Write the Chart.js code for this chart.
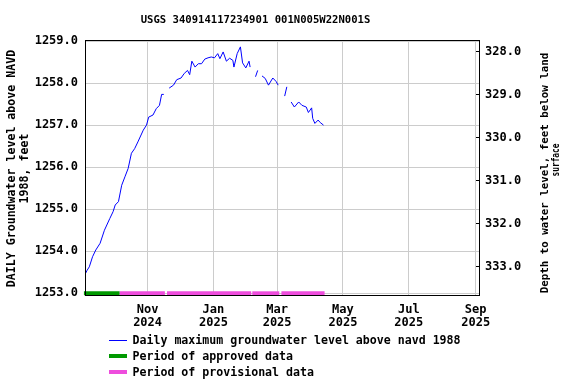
<!DOCTYPE html>
<html><head><meta charset="utf-8">
<script src="https://cdn.jsdelivr.net/npm/chart.js@4/dist/chart.umd.min.js"></script>
<style>html,body{margin:0;padding:0;background:#fff}#wrap{width:576px;height:384px;position:relative}</style>
</head><body><div id="wrap"><canvas id="c" width="576" height="384"></canvas></div>
<script>
const TITLE = 'USGS 340914117234901 001N005W22N001S';
const levelDates = [
'2024-09-04','2024-09-06','2024-09-08','2024-09-11','2024-09-14','2024-09-18','2024-09-22','2024-09-27','2024-09-30',
'2024-10-02','2024-10-05','2024-10-08','2024-10-11','2024-10-14','2024-10-17','2024-10-20','2024-10-23','2024-10-28','2024-10-31',
'2024-11-02','2024-11-06','2024-11-09','2024-11-12','2024-11-14','2024-11-16','2024-11-18','2024-11-21','2024-11-25','2024-11-28',
'2024-12-02','2024-12-05','2024-12-08','2024-12-10','2024-12-12','2024-12-15','2024-12-18','2024-12-21','2024-12-24','2024-12-27','2024-12-30',
'2025-01-02','2025-01-05','2025-01-07','2025-01-10','2025-01-13','2025-01-16','2025-01-19','2025-01-20','2025-01-23','2025-01-26','2025-01-28','2025-01-31',
'2025-02-03','2025-02-04','2025-02-06','2025-02-09','2025-02-11','2025-02-12','2025-02-15','2025-02-18','2025-02-21','2025-02-25','2025-02-28',
'2025-03-02','2025-03-04','2025-03-08','2025-03-10','2025-03-12','2025-03-14','2025-03-17','2025-03-21','2025-03-24','2025-03-28','2025-03-30',
'2025-04-02','2025-04-03','2025-04-05','2025-04-08','2025-04-10','2025-04-13'
];
const levelValues = [
1253.45,1253.55,1253.63,1253.87,1254.03,1254.19,1254.50,1254.78,1254.94,
1255.10,1255.18,1255.57,1255.77,1255.97,1256.33,1256.44,1256.60,1256.88,1257.00,
1257.19,1257.24,1257.39,1257.47,1257.73,1257.73,null,1257.88,1257.95,1258.08,
1258.12,1258.23,1258.30,1258.20,1258.52,1258.38,1258.46,1258.46,1258.57,1258.60,1258.62,
1258.60,1258.70,1258.58,1258.74,1258.52,1258.59,1258.54,1258.38,1258.70,1258.86,1258.48,1258.36,
1258.52,1258.38,null,1258.15,1258.30,null,1258.17,1258.11,1257.95,1258.12,1258.04,
1257.95,null,1257.69,1257.91,null,1257.55,1257.43,1257.55,1257.47,1257.43,1257.30,
1257.41,1257.16,1257.04,1257.12,1257.06,1257.00
];
const approvedPeriods = [['2024-09-03','2024-10-06']];
const provisionalPeriods = [['2024-10-06','2024-11-17'],['2024-11-19','2025-02-05'],['2025-02-06','2025-03-03'],['2025-03-05','2025-04-14']];
const xTickDates = ['2024-11-01','2025-01-01','2025-03-01','2025-05-01','2025-07-01','2025-09-01'];
const xTickLabels = [['Nov','2024'],['Jan','2025'],['Mar','2025'],['May','2025'],['Jul','2025'],['Sep','2025']];
const leftTicks = [1253,1254,1255,1256,1257,1258,1259];
const rightTicks = [328,329,330,331,332,333];
const legendLabels = ['Daily maximum groundwater level above navd 1988','Period of approved data','Period of provisional data'];
const leftTitle = ['DAILY Groundwater level above NAVD','1988, feet'];
const rightTitle = ['Depth to water level, feet below land','surface'];

const FONT = 'DejaVu Sans Mono';
const ORIGIN = Date.UTC(2024,8,4);
function dayNum(s){const [y,m,d]=s.split('-').map(Number);return (Date.UTC(y,m-1,d)-ORIGIN)/864e5;}

const datasets = [];
const periodDs = (p,color)=>({type:'line',data:[{x:dayNum(p[0]),y:1253},{x:dayNum(p[1]),y:1253}],borderColor:color,borderWidth:4,borderCapStyle:'butt',pointRadius:0,clip:false,yAxisID:'y'});
approvedPeriods.forEach(p=>datasets.push(periodDs(p,'#009900')));
provisionalPeriods.forEach(p=>datasets.push(periodDs(p,'#ee4ddd')));
datasets.push({type:'line',data:levelDates.map((s,i)=>({x:dayNum(s),y:levelValues[i]})),borderColor:'#0000ff',borderWidth:1,pointRadius:0,tension:0,spanGaps:false,yAxisID:'y'});

const deco = {
  id:'deco',
  afterDraw(chart){
    const ctx = chart.ctx, a = chart.chartArea;
    ctx.save();
    ctx.strokeStyle='#000'; ctx.lineWidth=1;
    ctx.strokeRect(a.left+0.5,a.top-0.5,a.right-a.left-1,a.bottom-a.top);
    const y2 = chart.scales.y2;
    rightTicks.forEach(v=>{const py=Math.round(y2.getPixelForValue(v))+0.5;ctx.beginPath();ctx.moveTo(a.right-4,py);ctx.lineTo(a.right,py);ctx.stroke();});
    ctx.fillStyle='#000';
    ctx.textAlign='center'; ctx.textBaseline='middle';
    ctx.font='bold 10.6px "'+FONT+'"';
    ctx.fillText(TITLE,255.5,20.5);
    // right axis title
    ctx.save(); ctx.translate(545,173); ctx.rotate(-Math.PI/2);
    ctx.font='bold 10.8px "'+FONT+'"'; ctx.fillText(rightTitle[0],0,0); ctx.restore();
    ctx.save(); ctx.translate(556.5,160); ctx.rotate(-Math.PI/2);
    ctx.font='bold 10.8px "'+FONT+'"'; ctx.fillText(rightTitle[1],0,0,33); ctx.restore();
    // legend
    const rows=[341,357,373];
    ctx.beginPath(); ctx.strokeStyle='#0000ff'; ctx.lineWidth=1; ctx.moveTo(109,340.5); ctx.lineTo(127,340.5); ctx.stroke();
    ctx.fillStyle='#009900'; ctx.fillRect(109,354,18,4);
    ctx.fillStyle='#ee4ddd'; ctx.fillRect(109,370,18,4);
    ctx.fillStyle='#000'; ctx.textAlign='left'; ctx.font='bold 11.6px "'+FONT+'"';
    legendLabels.forEach((t,i)=>ctx.fillText(t,132.5,rows[i]));
    ctx.restore();
  }
};

const tickFont = {family:FONT,weight:'bold',size:12,lineHeight:1.1};
new Chart(document.getElementById('c'),{
  data:{datasets},
  options:{
    responsive:false, animation:false, devicePixelRatio:1,
    layout:{padding:{top:41,left:0,right:0,bottom:0}},
    plugins:{legend:{display:false},title:{display:false},tooltip:{enabled:false}},
    scales:{
      x:{type:'linear',min:0,max:366,
        afterBuildTicks:s=>{s.ticks=xTickDates.map(d=>({value:dayNum(d)}));},
        afterFit:s=>{s.height=88;},
        grid:{color:'#cccccc',drawTicks:false},border:{display:false},
        ticks:{autoSkip:false,maxRotation:0,minRotation:0,padding:7,color:'#000',font:tickFont,callback:(v,i)=>xTickLabels[i]}},
      y:{type:'linear',position:'left',min:1252.936,max:1259.0,
        afterBuildTicks:s=>{s.ticks=leftTicks.map(v=>({value:v}));},
        afterFit:s=>{s.width=85;},
        grid:{color:'#cccccc',drawTicks:false},border:{display:false},
        ticks:{padding:7,color:'#000',font:tickFont,callback:v=>Number(v).toFixed(1)},
        title:{display:true,text:leftTitle,color:'#000',font:{family:FONT,weight:'bold',size:11.6,lineHeight:1.15},padding:{top:5,bottom:0}}},
      y2:{type:'linear',position:'right',reverse:true,min:327.756,max:333.687,
        afterBuildTicks:s=>{s.ticks=rightTicks.map(v=>({value:v}));},
        afterFit:s=>{s.width=96;},
        grid:{drawOnChartArea:false,drawTicks:false},border:{display:false},
        ticks:{padding:5,color:'#000',font:tickFont,callback:v=>Number(v).toFixed(1)}}
    }
  },
  plugins:[deco]
});
</script></body></html>
